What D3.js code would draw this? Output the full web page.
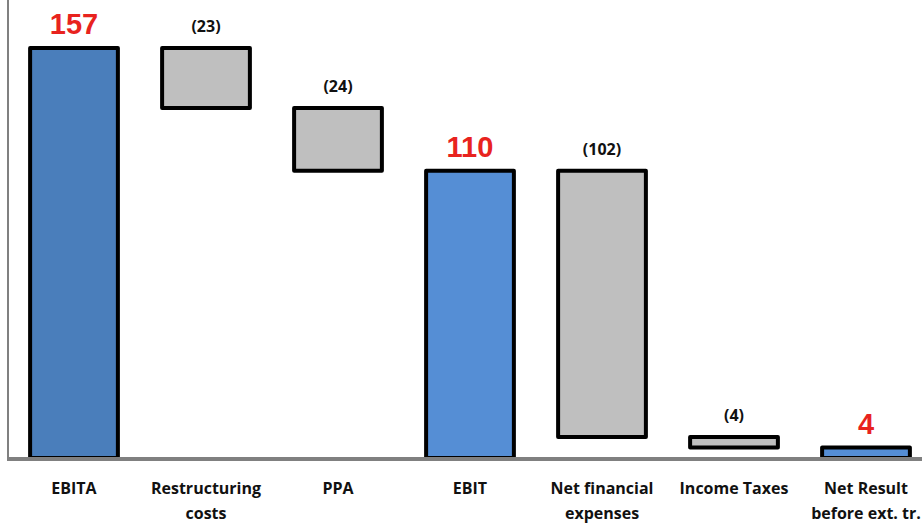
<!DOCTYPE html>
<meta charset="utf-8">
<style>
    body { margin: 0; background: #fff; }
    .bar { stroke: #000; stroke-width: 4px; stroke-linejoin: round; }
    .total-label { font-family: 'Liberation Sans', Arial, sans-serif;
                   font-weight: bold; font-size: 29px; fill: #e8231e; }
    .delta-label { font-family: 'Open Sans', sans-serif;
                   font-weight: bold; font-size: 16px; fill: #111; }
    .cat-label { font-family: 'Open Sans', sans-serif;
                 font-weight: bold; font-size: 16px; fill: #111; }
    .axis-line { stroke: #808080; }
</style>
<body>
<div id="chart"></div>
<script src="https://d3js.org/d3.v7.min.js"></script>
<script>
    var width = 922,
        height = 524;

    // data
    var categories = ["EBITA", "Restructuring costs", "PPA", "EBIT",
                      "Net financial expenses", "Income Taxes", "Net Result before ext. tr."];
    var catLines = [["EBITA"], ["Restructuring", "costs"], ["PPA"], ["EBIT"],
                    ["Net financial", "expenses"], ["Income Taxes"], ["Net Result", "before ext. tr."]];
    var values = [157, -23, -24, 110, -102, -4, 4];
    var isTotal = [true, false, false, true, false, false, true];

    var barColors = {total0: "#4a7ebb", total: "#558ed5", delta: "#bfbfbf"};

    // build waterfall steps
    var steps = [];
    var running = 0;
    values.forEach((v, i) => {
        if (isTotal[i]) {
            steps.push({cat: categories[i], lines: catLines[i], v: v, y0: 0, y1: v, total: true, i: i});
            running = v;
        } else {
            steps.push({cat: categories[i], lines: catLines[i], v: v, y0: running + v, y1: running, total: false, i: i});
            running = running + v;
        }
    });

    var svg = d3.select("#chart").append("svg")
        .attr("width", width)
        .attr("height", height);

    var x = d3.scaleBand()
        .domain(categories)
        .range([8, 932])
        .paddingInner(0.335)
        .paddingOuter(0.1675);

    var y = d3.scaleLinear()
        .domain([0, 170])
        .range([458, 14]);

    // axes lines
    svg.append("line")
        .attr("class", "axis-line")
        .attr("x1", 8).attr("x2", 8)
        .attr("y1", 0).attr("y2", y(0))
        .attr("stroke-width", 2);

    svg.selectAll(".bar")
        .data(steps)
        .enter().append("rect")
        .attr("class", "bar")
        .attr("x", d => x(d.cat))
        .attr("y", d => y(d.y1))
        .attr("width", x.bandwidth())
        .attr("height", d => y(d.y0) - y(d.y1))
        .attr("fill", d => d.total ? (d.i === 0 ? barColors.total0 : barColors.total) : barColors.delta);

    svg.append("line")
        .attr("class", "axis-line")
        .attr("x1", 7).attr("x2", width)
        .attr("y1", y(0) + 1).attr("y2", y(0) + 1)
        .attr("stroke-width", 4);

    svg.selectAll(".value-label")
        .data(steps)
        .enter().append("text")
        .attr("class", d => d.total ? "total-label" : "delta-label")
        .attr("text-anchor", "middle")
        .attr("x", d => x(d.cat) + x.bandwidth() / 2)
        .attr("y", d => y(d.y1) - (d.total ? 14 : 16))
        .text(d => d.total ? d.v : "(" + Math.abs(d.v) + ")");

    var cat = svg.selectAll(".cat-label")
        .data(steps)
        .enter().append("text")
        .attr("class", "cat-label")
        .attr("text-anchor", "middle")
        .attr("x", d => x(d.cat) + x.bandwidth() / 2)
        .attr("y", 494);

    cat.selectAll("tspan")
        .data(d => d.lines.map(l => ({l: l, cx: x(d.cat) + x.bandwidth() / 2})))
        .enter().append("tspan")
        .attr("x", d => d.cx)
        .attr("dy", (d, i) => i === 0 ? 0 : 25)
        .text(d => d.l);
</script>
</body>
